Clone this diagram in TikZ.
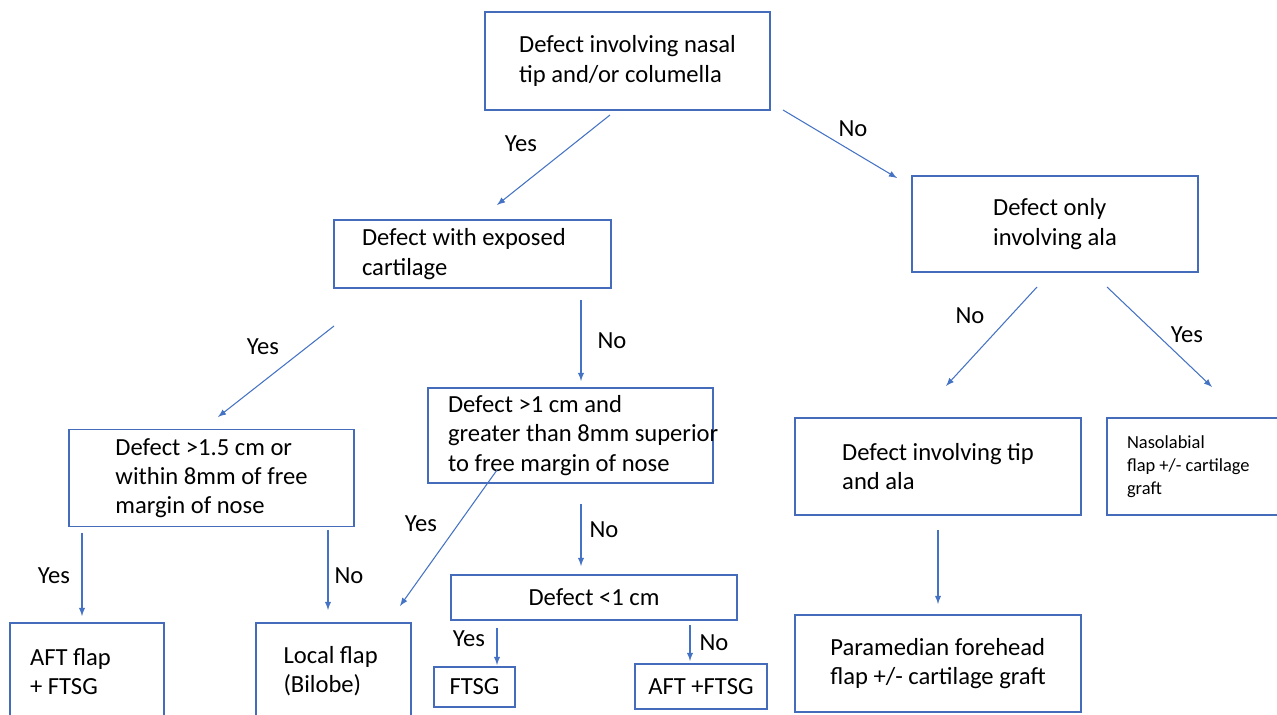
\documentclass[tikz,border=0pt]{standalone}
\usepackage{fontspec}
\setmainfont{Carlito}
\usepackage{tikz}
\usetikzlibrary{arrows}
\definecolor{flowBorder}{RGB}{68,108,186}
\definecolor{flowArrow}{RGB}{68,114,196}
\tikzstyle{box} = [draw=flowBorder, line width=0.8pt, align=left,
        font={\fontsize{14}{16.6}\selectfont}, inner sep=0pt,
        minimum width=5.7cm, minimum height=1.94cm]
\tikzstyle{leftbox} = [box, align=flush left, minimum width=0pt]
\tikzstyle{answer} = [font={\fontsize{14}{16}\selectfont}]
\tikzstyle{flow} = [->, >=latex, draw=flowArrow, line width=0.6pt]

\begin{document}
\begin{tikzpicture}[x=0.02cm, y=-0.02cm]
    \useasboundingbox (0,0) rectangle (1277,715);
    \clip (0,0) rectangle (1277,715);
    % boxes
    \node [box, minimum height=1.96cm] (nasaltip) at (627.5,61)
        {Defect involving nasal\\tip and/or columella};
    \node [leftbox, text width=4.42cm, inner xsep=0.56cm, minimum height=1.36cm] (cartilage) at (472.5,254)
        {Defect with exposed\\cartilage};
    \node [box, minimum width=5.72cm, minimum height=1.92cm] (alaonly) at (1055,224)
        {Defect only\\involving ala};
    \node [box] (margin) at (211.5,478)
        {Defect >1.5 cm or\\within 8mm of free\\margin of nose};
    \node [leftbox, text width=4.9cm, inner xsep=0.4cm, minimum height=1.9cm] (superior) at (570.5,435.5)
        {Defect >1 cm and\\\makebox[\linewidth][l]{greater than 8mm superior}\\to free margin of nose};
    \node [box, minimum width=5.72cm] (tipala) at (938,466.5)
        {Defect involving tip\\and ala};
    \node [leftbox, text width=2.8cm, inner xsep=0.4cm,
        font={\fontsize{10.5}{13}\selectfont}] (nasolabial) at (1197,466.5)
        {Nasolabial\\flap +/- cartilage\\graft};
    \node [leftbox, text width=2.28cm, inner xsep=0.4cm] (aft) at (87,671.5)
        {AFT flap\\+ FTSG};
    \node [leftbox, text width=2.0cm, inner xsep=0.55cm] (local) at (333.5,671.5)
        {Local flap\\(Bilobe)};
    \node [box, minimum width=5.72cm, minimum height=0.9cm] (lessone) at (594,597.5)
        {Defect <1 cm};
    \node [box, minimum width=1.62cm, minimum height=0.8cm] (ftsg) at (474.5,687)
        {FTSG};
    \node [box, minimum width=2.64cm, minimum height=0.9cm] (aftftsg) at (701,686.5)
        {AFT +FTSG};
    \node [box, minimum width=5.72cm] (paramedian) at (938,663.5)
        {Paramedian forehead\\flap +/- cartilage graft};
    % arrow ends
    \coordinate (tipYesA) at (610,115);   \coordinate (tipYesB) at (497,205);
    \coordinate (tipNoA) at (783,110);    \coordinate (tipNoB) at (897,178);
    \coordinate (carYesA) at (334,326);   \coordinate (carYesB) at (218,417);
    \coordinate (carNoA) at (581,300);    \coordinate (carNoB) at (581,381);
    \coordinate (alaNoA) at (1037,287);   \coordinate (alaNoB) at (946,386);
    \coordinate (alaYesA) at (1107,287);  \coordinate (alaYesB) at (1212,387);
    \coordinate (marYesA) at (82,533);    \coordinate (marYesB) at (82,616);
    \coordinate (marNoA) at (328,530);    \coordinate (marNoB) at (328,610);
    \coordinate (supYesA) at (497,470);   \coordinate (supYesB) at (400,606);
    \coordinate (supNoA) at (581,504);    \coordinate (supNoB) at (581,566);
    \coordinate (lessYesA) at (497,628);  \coordinate (lessYesB) at (497,665);
    \coordinate (lessNoA) at (690,625);   \coordinate (lessNoB) at (690,661);
    \coordinate (tipalaA) at (938,530);   \coordinate (tipalaB) at (938,604);
    % arrows
    \draw[flow] (tipYesA) -- (tipYesB);
    \draw[flow] (tipNoA) -- (tipNoB);
    \draw[flow] (carYesA) -- (carYesB);
    \draw[flow] (carNoA) -- (carNoB);
    \draw[flow] (alaNoA) -- (alaNoB);
    \draw[flow] (alaYesA) -- (alaYesB);
    \draw[flow] (marYesA) -- (marYesB);
    \draw[flow] (marNoA) -- (marNoB);
    \draw[flow] (supYesA) -- (supYesB);
    \draw[flow] (supNoA) -- (supNoB);
    \draw[flow] (lessYesA) -- (lessYesB);
    \draw[flow] (lessNoA) -- (lessNoB);
    \draw[flow] (tipalaA) -- (tipalaB);
    % answers
    \node [answer] (tipYes) at (521,144) {Yes};
    \node [answer] (tipNo) at (853,129) {No};
    \node [answer] (carYes) at (263,347) {Yes};
    \node [answer] (carNo) at (612,341) {No};
    \node [answer] (alaNo) at (970,316) {No};
    \node [answer] (alaYes) at (1187,335) {Yes};
    \node [answer] (marYes) at (54,576) {Yes};
    \node [answer] (marNo) at (349,576) {No};
    \node [answer] (supYes) at (421,524) {Yes};
    \node [answer] (supNo) at (604,530) {No};
    \node [answer] (lessYes) at (469,639) {Yes};
    \node [answer] (lessNo) at (714,643) {No};
\end{tikzpicture}
\end{document}
